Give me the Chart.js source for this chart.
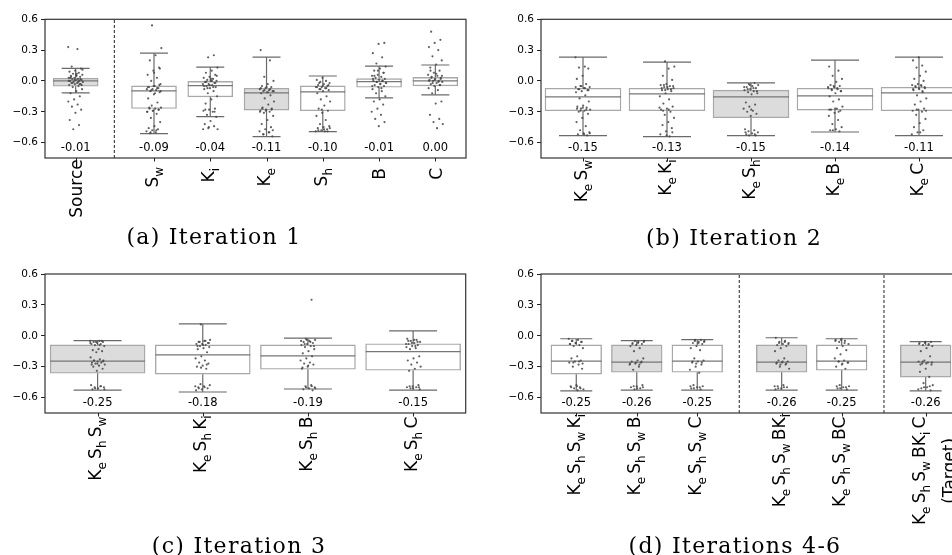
<!DOCTYPE html>
<html>
<head>
<meta charset="utf-8">
<script src="https://cdn.jsdelivr.net/npm/chart.js@4.4.0/dist/chart.umd.min.js"></script>
<style>
  html, body { margin: 0; padding: 0; background: #fff; width: 952px; height: 555px; overflow: hidden; }
  canvas { position: absolute; }
  .cap { position: absolute; font-family: "DejaVu Serif", serif; font-size: 22px; letter-spacing: 1.3px; color: #000;
         white-space: nowrap; transform: translate(-50%, -50%); }
</style>
</head>
<body>
<canvas id="ca" width="480" height="250" style="left:0;top:0"></canvas>
<canvas id="cb" width="480" height="250" style="left:496px;top:0"></canvas>
<canvas id="cc" width="480" height="290" style="left:0;top:260px"></canvas>
<canvas id="cd" width="480" height="290" style="left:496px;top:260px"></canvas>
<div class="cap" style="left:214px;top:236px">(a) Iteration 1</div>
<div class="cap" style="left:734px;top:237px">(b) Iteration 2</div>
<div class="cap" style="left:239px;top:545px">(c) Iteration 3</div>
<div class="cap" style="left:735px;top:545px">(d) Iterations 4-6</div>
<script>
const yTickValues = [-0.6, -0.3, 0.0, 0.3, 0.6];

// (a) Iteration 1
const catsA = ['Source', 'S_w', 'K_i', 'K_e', 'S_h', 'B', 'C'];
const meanA = [-0.01, -0.09, -0.04, -0.11, -0.10, -0.01, 0.00];
const q1A = [-0.052, -0.268, -0.155, -0.284, -0.29, -0.061, -0.048];
const medA = [0.0, -0.097, -0.045, -0.116, -0.106, -0.006, 0.0];
const q3A = [0.026, -0.048, 0.0, -0.071, -0.048, 0.023, 0.035];
const loA = [-0.116, -0.513, -0.348, -0.542, -0.494, -0.165, -0.135];
const hiA = [0.123, 0.271, 0.135, 0.232, 0.048, 0.145, 0.155];
const ptsA = [
  [0.33, 0.31, 0.14, 0.12, 0.10, 0.09, 0.08, 0.07, 0.06, 0.05, 0.05, 0.04, 0.03, 0.03, 0.02, 0.02, 0.01, 0.01, 0.0, 0.0, -0.01, -0.01, -0.02, -0.02, -0.03, -0.03, -0.04, -0.05, -0.06, -0.08, -0.10, -0.12, -0.15, -0.18, -0.2, -0.23, -0.25, -0.28, -0.31, -0.38, -0.43, -0.47,
   0.11, 0.07, 0.04, 0.02, 0.01, 0.0, -0.01, -0.02, -0.04, 0.06, 0.03, -0.03],
  [0.54, 0.32, 0.25, 0.2, 0.13, 0.1, 0.06, 0.03, 0.0, -0.03, -0.05, -0.06, -0.07, -0.08, -0.08, -0.09, -0.1, -0.11, -0.13, -0.17, -0.21, -0.24, -0.26, -0.27, -0.27, -0.28, -0.29, -0.3, -0.32, -0.36, -0.4, -0.44, -0.46, -0.47, -0.48, -0.49, -0.5, -0.51,
   -0.04, -0.05, -0.06, -0.07, -0.09, -0.1, -0.12, -0.26, -0.28, -0.29, -0.3, -0.48, -0.5, 0.12, 0.08],
  [0.25, 0.23, 0.13, 0.1, 0.08, 0.06, 0.04, 0.03, 0.02, 0.01, 0.0, 0.0, -0.01, -0.02, -0.03, -0.03, -0.04, -0.05, -0.06, -0.07, -0.08, -0.1, -0.12, -0.15, -0.18, -0.22, -0.27, -0.28, -0.29, -0.3, -0.33, -0.35, -0.39, -0.42, -0.44, -0.46, -0.47,
   0.0, -0.01, -0.02, -0.04, -0.05, -0.06, -0.07, 0.05, 0.02, -0.28, -0.3, -0.45, -0.47],
  [0.3, 0.2, 0.04, 0.0, -0.03, -0.05, -0.06, -0.07, -0.08, -0.09, -0.1, -0.1, -0.11, -0.12, -0.14, -0.17, -0.2, -0.23, -0.26, -0.27, -0.28, -0.29, -0.3, -0.31, -0.34, -0.38, -0.42, -0.45, -0.47, -0.49, -0.5, -0.52, -0.54,
   -0.06, -0.07, -0.08, -0.09, -0.1, -0.11, -0.27, -0.28, -0.29, -0.3, -0.5, -0.52, -0.48],
  [0.03, 0.01, 0.0, -0.01, -0.02, -0.03, -0.04, -0.05, -0.06, -0.06, -0.07, -0.08, -0.09, -0.1, -0.12, -0.15, -0.18, -0.2, -0.24, -0.27, -0.29, -0.31, -0.34, -0.38, -0.42, -0.44, -0.45, -0.46, -0.47, -0.48, -0.49, -0.49,
   -0.02, -0.04, -0.05, -0.06, -0.07, -0.08, -0.46, -0.47, -0.48, -0.49, -0.28],
  [0.37, 0.36, 0.27, 0.23, 0.17, 0.14, 0.12, 0.1, 0.08, 0.06, 0.05, 0.04, 0.03, 0.02, 0.01, 0.0, 0.0, -0.01, -0.02, -0.03, -0.04, -0.05, -0.06, -0.08, -0.1, -0.12, -0.15, -0.18, -0.2, -0.23, -0.27, -0.3, -0.33, -0.37, -0.4, -0.44,
   0.02, 0.0, -0.01, -0.02, -0.03, 0.05, 0.08, 0.1, -0.05, -0.07],
  [0.48, 0.4, 0.37, 0.33, 0.3, 0.24, 0.2, 0.16, 0.13, 0.1, 0.08, 0.06, 0.05, 0.04, 0.03, 0.02, 0.01, 0.0, 0.0, -0.01, -0.02, -0.03, -0.04, -0.05, -0.07, -0.09, -0.12, -0.2, -0.22, -0.33, -0.37, -0.4, -0.42, -0.46,
   0.03, 0.02, 0.01, 0.0, -0.01, -0.02, 0.05, 0.07, 0.1, -0.04]
];

// (b) Iteration 2
const catsB = ['K_e S_w', 'K_e K_i', 'K_e S_h', 'K_e B', 'K_e C'];
const meanB = [-0.15, -0.13, -0.15, -0.14, -0.11];
const q1B = [-0.29, -0.29, -0.358, -0.284, -0.29];
const medB = [-0.155, -0.126, -0.155, -0.145, -0.116];
const q3B = [-0.071, -0.071, -0.09, -0.071, -0.061];
const loB = [-0.532, -0.542, -0.532, -0.497, -0.532];
const hiB = [0.232, 0.184, -0.019, 0.203, 0.232];
const ptsB = [
  [0.23, 0.14, 0.13, 0.12, 0.05, 0.02, -0.03, -0.05, -0.06, -0.07, -0.08, -0.09, -0.1, -0.11, -0.14, -0.17, -0.2, -0.24, -0.25, -0.26, -0.27, -0.28, -0.29, -0.3, -0.32, -0.36, -0.4, -0.44, -0.48, -0.5, -0.51, -0.52, -0.53,
   -0.05, -0.06, -0.07, -0.08, -0.09, -0.26, -0.27, -0.28, -0.29, -0.51, -0.52],
  [0.19, 0.14, 0.12, 0.05, 0.01, -0.03, -0.04, -0.05, -0.06, -0.07, -0.08, -0.09, -0.1, -0.12, -0.15, -0.18, -0.22, -0.25, -0.27, -0.28, -0.3, -0.33, -0.36, -0.4, -0.43, -0.46, -0.49, -0.52, -0.54,
   -0.04, -0.05, -0.06, -0.07, -0.08, -0.09, -0.26, -0.28, -0.29, -0.5, -0.53],
  [-0.02, -0.03, -0.04, -0.05, -0.06, -0.07, -0.08, -0.09, -0.1, -0.11, -0.12, -0.13, -0.21, -0.23, -0.25, -0.27, -0.29, -0.3, -0.32, -0.34, -0.47, -0.48, -0.49, -0.5, -0.51, -0.52, -0.53,
   -0.04, -0.06, -0.07, -0.08, -0.1, -0.28, -0.5, -0.52, -0.53],
  [0.14, 0.1, 0.05, 0.02, -0.01, -0.04, -0.05, -0.06, -0.07, -0.08, -0.09, -0.1, -0.12, -0.15, -0.18, -0.2, -0.25, -0.27, -0.28, -0.29, -0.31, -0.34, -0.38, -0.42, -0.45, -0.47, -0.48, -0.49,
   -0.05, -0.06, -0.07, -0.08, -0.1, -0.27, -0.28, -0.3, -0.48],
  [0.23, 0.2, 0.15, 0.13, 0.09, 0.05, 0.02, 0.0, -0.03, -0.04, -0.05, -0.06, -0.07, -0.08, -0.09, -0.11, -0.14, -0.17, -0.2, -0.23, -0.27, -0.28, -0.29, -0.3, -0.33, -0.37, -0.41, -0.45, -0.48, -0.5, -0.52,
   -0.04, -0.05, -0.06, -0.07, -0.08, -0.1, -0.28, -0.29, -0.5]
];

// (c) Iteration 3
const catsC = ['K_e S_h S_w', 'K_e S_h K_i', 'K_e S_h B', 'K_e S_h C'];
const meanC = [-0.25, -0.18, -0.19, -0.15];
const q1C = [-0.364, -0.373, -0.325, -0.335];
const medC = [-0.246, -0.185, -0.195, -0.153];
const q3C = [-0.089, -0.089, -0.089, -0.077];
const loC = [-0.527, -0.546, -0.517, -0.527];
const hiC = [-0.048, 0.115, -0.022, 0.048];
const ptsC = [
  [-0.05, -0.05, -0.06, -0.06, -0.07, -0.08, -0.08, -0.09, -0.1, -0.13, -0.14, -0.15, -0.16, -0.21, -0.23, -0.24, -0.24, -0.25, -0.26, -0.26, -0.27, -0.28, -0.29, -0.3, -0.32, -0.34, -0.48, -0.49, -0.5, -0.5, -0.51, -0.52,
   -0.05, -0.06, -0.07, -0.09, -0.24, -0.25, -0.27, -0.28, -0.49, -0.51, -0.52],
  [0.11, -0.04, -0.05, -0.06, -0.07, -0.08, -0.08, -0.09, -0.1, -0.11, -0.12, -0.13, -0.16, -0.2, -0.22, -0.24, -0.26, -0.27, -0.29, -0.3, -0.32, -0.47, -0.48, -0.49, -0.5, -0.51, -0.52, -0.53,
   -0.05, -0.06, -0.07, -0.09, -0.1, -0.28, -0.31, -0.49, -0.5, -0.51],
  [0.35, -0.03, -0.04, -0.05, -0.06, -0.07, -0.08, -0.09, -0.1, -0.11, -0.13, -0.15, -0.17, -0.2, -0.22, -0.24, -0.26, -0.27, -0.28, -0.3, -0.32, -0.48, -0.49, -0.5, -0.51, -0.52, -0.53,
   -0.04, -0.05, -0.06, -0.08, -0.1, -0.29, -0.31, -0.49, -0.5, -0.51],
  [-0.03, -0.04, -0.05, -0.06, -0.07, -0.08, -0.09, -0.1, -0.11, -0.12, -0.13, -0.2, -0.22, -0.24, -0.26, -0.28, -0.3, -0.32, -0.34, -0.48, -0.49, -0.5, -0.5, -0.51, -0.52,
   -0.04, -0.05, -0.06, -0.07, -0.08, -0.1, -0.49, -0.5, -0.51]
];

// (d) Iterations 4-6
const catsD = ['K_e S_h S_w K_i', 'K_e S_h S_w B', 'K_e S_h S_w C', 'K_e S_h S_w BK_i', 'K_e S_h S_w BC', 'K_e S_h S_w BK_i C\n(Target)'];
const meanD = [-0.25, -0.26, -0.25, -0.26, -0.25, -0.26];
const q1D = [-0.373, -0.354, -0.354, -0.354, -0.335, -0.402];
const medD = [-0.246, -0.255, -0.246, -0.255, -0.246, -0.255];
const q3D = [-0.089, -0.089, -0.089, -0.089, -0.089, -0.089];
const loD = [-0.536, -0.527, -0.527, -0.527, -0.527, -0.536];
const hiD = [-0.029, -0.048, -0.038, -0.019, -0.029, -0.057];
const ptsD = [
  [-0.03, -0.04, -0.05, -0.06, -0.07, -0.08, -0.09, -0.1, -0.12, -0.2, -0.22, -0.24, -0.25, -0.26, -0.28, -0.3, -0.32, -0.48, -0.49, -0.5, -0.51, -0.52, -0.53,
   -0.05, -0.06, -0.07, -0.08, -0.25, -0.26, -0.27, -0.49, -0.5, -0.51],
  [-0.05, -0.05, -0.06, -0.07, -0.08, -0.09, -0.1, -0.12, -0.15, -0.22, -0.24, -0.25, -0.26, -0.27, -0.28, -0.3, -0.33, -0.48, -0.49, -0.5, -0.51, -0.52,
   -0.06, -0.07, -0.08, -0.25, -0.26, -0.27, -0.28, -0.49, -0.5, -0.51],
  [-0.04, -0.04, -0.05, -0.06, -0.07, -0.08, -0.1, -0.12, -0.14, -0.22, -0.24, -0.25, -0.26, -0.28, -0.3, -0.33, -0.36, -0.48, -0.49, -0.5, -0.51, -0.52,
   -0.05, -0.06, -0.07, -0.25, -0.26, -0.27, -0.49, -0.5, -0.51],
  [-0.02, -0.05, -0.06, -0.07, -0.08, -0.09, -0.1, -0.12, -0.15, -0.22, -0.24, -0.25, -0.26, -0.27, -0.28, -0.3, -0.32, -0.48, -0.49, -0.5, -0.51, -0.52,
   -0.06, -0.07, -0.08, -0.25, -0.26, -0.27, -0.28, -0.49, -0.5, -0.51],
  [-0.03, -0.04, -0.05, -0.06, -0.08, -0.1, -0.12, -0.14, -0.18, -0.22, -0.24, -0.25, -0.26, -0.28, -0.3, -0.32, -0.48, -0.49, -0.5, -0.51, -0.52,
   -0.04, -0.05, -0.07, -0.25, -0.26, -0.27, -0.49, -0.5, -0.51],
  [-0.06, -0.06, -0.07, -0.08, -0.09, -0.1, -0.12, -0.15, -0.2, -0.24, -0.25, -0.26, -0.27, -0.28, -0.32, -0.35, -0.4, -0.46, -0.48, -0.5, -0.51, -0.53,
   -0.07, -0.08, -0.09, -0.25, -0.26, -0.27, -0.28, -0.49, -0.5, -0.52]
];

// layout of each panel (positions and sizes only)
const panels = [
  { id: 'ca', cats: catsA, mean: meanA, q1: q1A, med: medA, q3: q3A, lo: loA, hi: hiA, pts: ptsA,
    pos: [0, 1.392, 2.392, 3.392, 4.392, 5.392, 6.392], dash: [0.687], xmin: -0.545, xmax: 6.937,
    boxPx: 45, capPx: 28, shaded: [0, 3], gaps: [1.3, 9, 10, 10, 10, 10, 10],
    pad: { top: 19.3, bottom: 92, left: 0, right: 14 } },
  { id: 'cb', cats: catsB, mean: meanB, q1: q1B, med: medB, q3: q3B, lo: loB, hi: hiB, pts: ptsB,
    pos: [0, 1, 2, 3, 4], dash: [], xmin: -0.5, xmax: 4.5,
    boxPx: 76, capPx: 48, shaded: [2], gaps: [2, 1.5, 1.5, 5, 5],
    pad: { top: 19.3, bottom: 92, left: 0, right: 15 } },
  { id: 'cc', cats: catsC, mean: meanC, q1: q1C, med: medC, q3: q3C, lo: loC, hi: hiC, pts: ptsC,
    pos: [0, 1, 2, 3], dash: [], xmin: -0.5, xmax: 3.5,
    boxPx: 95, capPx: 48, shaded: [0], gaps: [3.7, 2.3, 3.7, 3.7],
    pad: { top: 14, bottom: 137, left: 0, right: 14.3 } },
  { id: 'cd', cats: catsD, mean: meanD, q1: q1D, med: medD, q3: q3D, lo: loD, hi: hiD, pts: ptsD,
    pos: [0, 1, 2, 3.395, 4.387, 5.775], dash: [2.694, 5.086], xmin: -0.583, xmax: 6.359,
    boxPx: 50.7, capPx: 32, shaded: [1, 3, 5], gaps: [1, 3.7, 3.7, 1, 3.7, 3.7],
    pad: { top: 14, bottom: 137, left: 0, right: 15 } }
];

const YMIN = -0.75, YMAX = 0.6, MEAN_Y = -0.652;
const FS = 17, SFS = 12, SUB = 5, SPACE = 3.2;

function parseLine(s) {
  const runs = [];
  for (let i = 0; i < s.length; i++) {
    const ch = s[i];
    if (ch === '_') { runs.push({ t: s[++i], sub: true }); }
    else if (ch === ' ') { runs.push({ gap: true }); }
    else if (runs.length && !runs[runs.length - 1].sub && !runs[runs.length - 1].gap) { runs[runs.length - 1].t += ch; }
    else { runs.push({ t: ch, sub: false }); }
  }
  return runs;
}

function drawLabel(ctx, text, cx, yTop) {
  const lines = text.split('\n').map(parseLine);
  const widths = lines.map(runs => runs.reduce((w, r) => {
    if (r.gap) return w + SPACE;
    ctx.font = (r.sub ? SFS : FS) + 'px "DejaVu Sans"';
    r.w = ctx.measureText(r.t).width;
    return w + r.w;
  }, 0));
  const maxW = Math.max(...widths);
  ctx.save();
  ctx.translate(cx, yTop);
  ctx.rotate(-Math.PI / 2);
  ctx.fillStyle = '#000';
  ctx.textAlign = 'left';
  ctx.textBaseline = 'alphabetic';
  const hasSub0 = lines[0].some(r => r.sub);
  let base0 = (0.73 * FS - (hasSub0 ? SUB : 0)) / 2;
  if (lines.length > 1) base0 -= 4;
  lines.forEach((runs, k) => {
    let x = -(maxW + widths[k]) / 2;
    const base = base0 + k * 30;
    runs.forEach(r => {
      if (r.gap) { x += SPACE; return; }
      ctx.font = (r.sub ? SFS : FS) + 'px "DejaVu Sans"';
      ctx.fillText(r.t, x, base + (r.sub ? SUB : 0));
      x += r.w;
    });
  });
  ctx.restore();
}

function decor(p) {
  return {
    id: 'decor',
    afterDraw(chart) {
      const { ctx, chartArea: a, scales: { x, y } } = chart;
      ctx.save();
      ctx.strokeStyle = '#333';
      ctx.lineWidth = 1.2;
      ctx.strokeRect(a.left, a.top, a.right - a.left, a.bottom - a.top);
      // x tick marks
      ctx.strokeStyle = '#222';
      ctx.lineWidth = 1;
      p.pos.forEach(v => {
        const px = Math.round(x.getPixelForValue(v)) + 0.5;
        ctx.beginPath(); ctx.moveTo(px, a.bottom); ctx.lineTo(px, a.bottom + 3.5); ctx.stroke();
      });
      // mean labels
      ctx.fillStyle = '#000';
      ctx.font = '11.5px "DejaVu Sans"';
      ctx.textAlign = 'center';
      ctx.textBaseline = 'middle';
      const my = y.getPixelForValue(MEAN_Y);
      p.mean.forEach((m, i) => {
        const s = Math.abs(m) < 1e-9 ? '0.00' : m.toFixed(2);
        ctx.fillText(s, x.getPixelForValue(p.pos[i]), my);
      });
      ctx.restore();
      // category labels
      p.cats.forEach((c, i) => drawLabel(ctx, c, x.getPixelForValue(p.pos[i]), a.bottom + p.gaps[i]));
    }
  };
}

function buildChart(p) {
  const canvas = document.getElementById(p.id);
  const plotW = canvas.width - p.pad.left - p.pad.right - 45;
  const pxPerUnit = plotW / (p.xmax - p.xmin);
  const half = p.boxPx / 2 / pxPerUnit;
  const capHalf = p.capPx / 2 / pxPerUnit;
  const jit = 7.5 / pxPerUnit;

  const boxes = p.pos.map((xv, i) => ({ x: xv, y: [p.q1[i], p.q3[i]] }));
  const whiskers = [];
  const medians = [];
  p.pos.forEach((xv, i) => {
    whiskers.push({ x: xv, y: p.lo[i] }, { x: xv, y: p.q1[i] }, { x: xv, y: null });
    whiskers.push({ x: xv, y: p.q3[i] }, { x: xv, y: p.hi[i] }, { x: xv, y: null });
    whiskers.push({ x: xv - capHalf, y: p.lo[i] }, { x: xv + capHalf, y: p.lo[i] }, { x: xv, y: null });
    whiskers.push({ x: xv - capHalf, y: p.hi[i] }, { x: xv + capHalf, y: p.hi[i] }, { x: xv, y: null });
    medians.push({ x: xv - half, y: p.med[i] }, { x: xv + half, y: p.med[i] }, { x: xv, y: null });
  });
  const points = [];
  p.pts.forEach((arr, i) => {
    arr.forEach((v, j) => {
      const off = ((j * 0.618034 + i * 0.37) % 1) * 2 - 1;
      points.push({ x: p.pos[i] + off * jit, y: v });
    });
  });
  const dashes = [];
  p.dash.forEach(d => dashes.push({ x: d, y: YMIN }, { x: d, y: YMAX }, { x: d, y: null }));

  return new Chart(canvas, {
    type: 'scatter',
    data: {
      datasets: [
        { type: 'scatter', data: points, order: 0, pointRadius: 1.1, pointBorderWidth: 0,
          pointBackgroundColor: 'rgba(70,70,70,0.85)' },
        { type: 'line', data: medians, order: 1, borderColor: '#777', borderWidth: 1.2,
          pointRadius: 0, spanGaps: false },
        { type: 'line', data: whiskers, order: 2, borderColor: '#6a6a6a', borderWidth: 1.2,
          pointRadius: 0, spanGaps: false },
        { type: 'bar', data: boxes, order: 3, barThickness: p.boxPx,
          backgroundColor: p.pos.map((_, i) => p.shaded.includes(i) ? '#dcdcdc' : '#ffffff'),
          borderColor: '#a8a8a8', borderWidth: 1.4, borderSkipped: false },
        { type: 'line', data: dashes, order: 4, borderColor: '#222', borderWidth: 1,
          borderDash: [3, 2], pointRadius: 0, spanGaps: false }
      ]
    },
    options: {
      responsive: false,
      animation: false,
      layout: { padding: p.pad },
      plugins: { legend: { display: false }, tooltip: { enabled: false } },
      scales: {
        x: { type: 'linear', display: false, min: p.xmin, max: p.xmax, offset: false },
        y: {
          min: YMIN, max: YMAX,
          afterFit: s => { s.width = 45; },
          afterBuildTicks: s => { s.ticks = yTickValues.map(v => ({ value: v })); },
          border: { display: false },
          grid: { drawOnChartArea: false, drawTicks: true, tickLength: 4, color: '#222' },
          ticks: {
            padding: 3, color: '#000', font: { family: 'DejaVu Sans', size: 10.5 },
            callback: v => (v < 0 ? '\u2212' : '') + Math.abs(v).toFixed(1)
          }
        }
      }
    },
    plugins: [decor(p)]
  });
}

panels.forEach(buildChart);
</script>
</body>
</html>
